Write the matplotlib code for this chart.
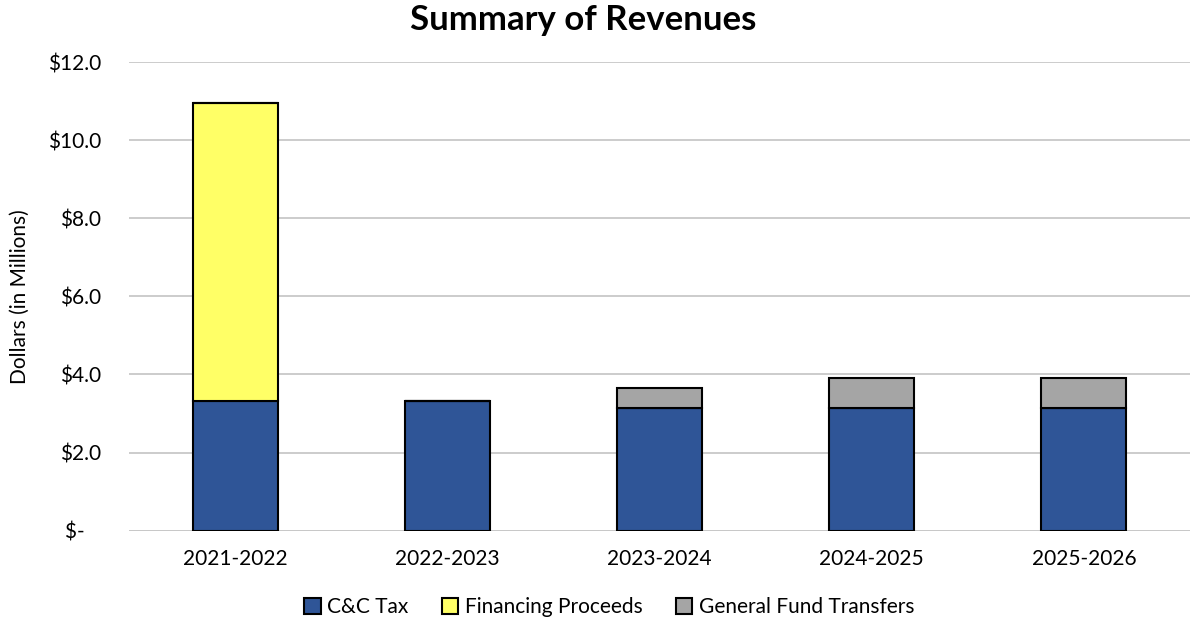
import matplotlib.pyplot as plt
import numpy as np

plt.rcParams['font.family'] = ['Lato', 'DejaVu Sans']

years = ["2021-2022", "2022-2023", "2023-2024", "2024-2025", "2025-2026"]
cc_tax = [3.33, 3.33, 3.15, 3.15, 3.15]
financing = [7.61, 0.0, 0.0, 0.0, 0.0]
gf_transfers = [0.0, 0.0, 0.50, 0.76, 0.76]

yticks = [0, 2, 4, 6, 8, 10, 12]
ytick_labels = ["$-   ", "$2.0", "$4.0", "$6.0", "$8.0", "$10.0", "$12.0"]

colors = {"C&C Tax": "#2F5597", "Financing Proceeds": "#FFFF66",
          "General Fund Transfers": "#A5A5A5"}

fig = plt.figure(figsize=(11.9, 6.22), dpi=100)
ax = fig.add_axes([0.1084, 0.1468, 0.8916, 0.7535])

x = np.arange(len(years))
w = 0.40
cc = np.array(cc_tax)
fin = np.array(financing)
gf = np.array(gf_transfers)

ax.bar(x, cc, w, color=colors["C&C Tax"], edgecolor="black", linewidth=1.5,
       label="C&C Tax", zorder=3)
ax.bar(x, fin, w, bottom=cc, color=colors["Financing Proceeds"], edgecolor="black",
       linewidth=1.5, label="Financing Proceeds", zorder=3)
ax.bar(x, gf, w, bottom=cc + fin, color=colors["General Fund Transfers"],
       edgecolor="black", linewidth=1.5, label="General Fund Transfers", zorder=3)

ax.set_xlim(-0.5, len(years) - 0.5)
ax.set_ylim(0, 12)
ax.set_yticks(yticks)
ax.set_yticklabels(ytick_labels)
ax.set_xticks(x)
ax.set_xticklabels(years)
ax.tick_params(axis="both", length=0, labelsize=15, colors="black")
ax.tick_params(axis="x", pad=13)
ax.tick_params(axis="y", pad=20)
ax.grid(axis="y", color="#C8C8C8", linewidth=1.3, zorder=0)
for s in ["top", "right", "left", "bottom"]:
    ax.spines[s].set_visible(False)
ax.axhline(0, color="#C8C8C8", linewidth=1.3, zorder=1)

ax.set_ylabel("Dollars (in Millions)", fontsize=15)
ax.yaxis.set_label_coords(-0.093, 0.5)

fig.suptitle("Summary of Revenues", fontsize=25, fontweight="bold", x=0.49, y=0.993)

handles, labels = ax.get_legend_handles_labels()
fig.legend(handles, labels, loc="center", bbox_to_anchor=(0.512, 0.024), ncol=3,
           frameon=False, fontsize=15, handlelength=0.8, handleheight=0.8,
           handletextpad=0.3, columnspacing=1.6)

plt.savefig("out.png")
